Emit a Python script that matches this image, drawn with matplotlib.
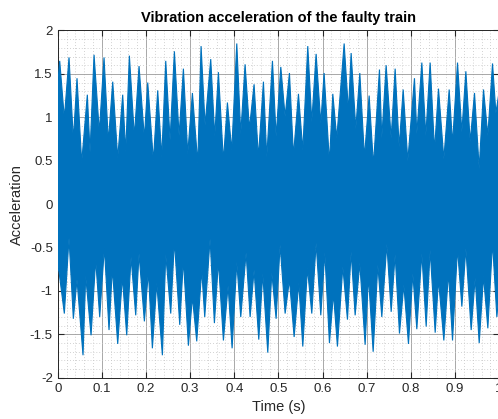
import numpy as np
import matplotlib.pyplot as plt
from matplotlib.ticker import MultipleLocator

# Envelope of the vibration signal (peaks and dips)
t_upper = [0.000, 0.0045, 0.0150, 0.0256, 0.0354, 0.0437, 0.0543, 0.0671, 0.0732, 0.0823,
           0.0943, 0.1049, 0.1147, 0.1246, 0.1359, 0.1472, 0.1540, 0.1623, 0.1736, 0.1842,
           0.1963, 0.2039, 0.2167, 0.2265, 0.2356, 0.2447, 0.2545, 0.2643, 0.2749, 0.2847,
           0.2945, 0.3051, 0.3172, 0.3247, 0.3338, 0.3466, 0.3557, 0.3640, 0.3753, 0.3844,
           0.3942, 0.4056, 0.4146, 0.4244, 0.4342, 0.4448, 0.4546, 0.4660, 0.4735, 0.4864,
           0.4947, 0.5053, 0.5151, 0.5249, 0.5340, 0.5453, 0.5551, 0.5664, 0.5755, 0.5853,
           0.5959, 0.6034, 0.6155, 0.6231, 0.6321, 0.6488, 0.6586, 0.6646, 0.6752, 0.6843,
           0.6948, 0.7054, 0.7152, 0.7288, 0.7341, 0.7439, 0.7553, 0.7643, 0.7734, 0.7825,
           0.7930, 0.8081, 0.8134, 0.8248, 0.8338, 0.8436, 0.8535, 0.8625, 0.8746, 0.8867,
           0.8943, 0.9056, 0.9154, 0.9245, 0.9343, 0.9441, 0.9547, 0.9645, 0.9743, 0.9849,
           0.9925, 1.000]
a_upper = [1.38, 1.65, 0.99, 1.69, 0.74, 1.45, 0.48, 1.26, 0.60, 1.72,
           0.83, 1.69, 0.72, 1.41, 0.53, 1.26, 0.60, 1.71, 0.78, 1.59,
           0.76, 1.40, 0.50, 1.31, 0.54, 1.65, 0.74, 1.76, 0.79, 1.56,
           0.58, 1.28, 0.47, 1.82, 0.91, 1.67, 0.78, 1.52, 0.50, 1.17,
           0.62, 1.85, 0.81, 1.61, 0.87, 1.38, 0.54, 1.41, 0.54, 1.65,
           0.78, 1.58, 1.01, 1.51, 0.56, 1.27, 0.62, 1.82, 0.95, 1.73,
           0.93, 1.51, 0.48, 1.27, 0.76, 1.85, 1.07, 1.74, 0.87, 1.51,
           0.54, 1.25, 0.45, 1.55, 0.76, 1.60, 0.76, 1.56, 0.66, 1.32,
           0.50, 1.45, 0.81, 1.63, 0.79, 1.63, 0.62, 1.33, 0.52, 1.32,
           0.70, 1.63, 0.83, 1.53, 0.72, 1.28, 0.41, 1.32, 0.79, 1.62,
           1.05, 1.30]

t_lower = [0.000, 0.0030, 0.0150, 0.0256, 0.0354, 0.0437, 0.0573, 0.0634, 0.0755, 0.0860,
           0.0951, 0.1057, 0.1162, 0.1238, 0.1359, 0.1465, 0.1563, 0.1661, 0.1767, 0.1842,
           0.1963, 0.2054, 0.2144, 0.2243, 0.2371, 0.2447, 0.2560, 0.2643, 0.2764, 0.2847,
           0.2960, 0.3051, 0.3149, 0.3262, 0.3330, 0.3451, 0.3549, 0.3640, 0.3753, 0.3859,
           0.3950, 0.4056, 0.4146, 0.4267, 0.4358, 0.4448, 0.4554, 0.4645, 0.4758, 0.4849,
           0.4947, 0.5037, 0.5151, 0.5249, 0.5355, 0.5460, 0.5551, 0.5657, 0.5755, 0.5853,
           0.5959, 0.6050, 0.6155, 0.6246, 0.6336, 0.6458, 0.6563, 0.6646, 0.6737, 0.6843,
           0.6963, 0.7039, 0.7145, 0.7251, 0.7341, 0.7455, 0.7553, 0.7643, 0.7741, 0.7840,
           0.7945, 0.8044, 0.8134, 0.8248, 0.8346, 0.8436, 0.8550, 0.8625, 0.8746, 0.8852,
           0.8943, 0.9056, 0.9154, 0.9245, 0.9365, 0.9456, 0.9547, 0.9645, 0.9743, 0.9849,
           0.9947, 1.000]
a_lower = [-0.72, -0.78, -1.26, -0.39, -1.32, -0.87, -1.74, -0.83, -1.51, -0.64,
           -1.30, -0.50, -1.45, -0.74, -1.61, -0.84, -1.51, -0.61, -1.28, -0.57,
           -1.35, -0.78, -1.66, -0.91, -1.74, -0.58, -1.26, -0.42, -1.39, -0.64,
           -1.63, -1.07, -1.58, -0.76, -1.30, -0.40, -1.37, -0.66, -1.57, -0.94,
           -1.66, -0.67, -1.30, -0.56, -1.30, -0.76, -1.56, -0.80, -1.71, -0.79,
           -1.32, -0.47, -1.26, -0.87, -1.53, -0.91, -1.64, -0.74, -1.26, -0.45,
           -1.28, -0.56, -1.60, -1.03, -1.64, -0.72, -1.33, -0.55, -1.28, -0.68,
           -1.62, -0.83, -1.70, -0.70, -1.30, -0.46, -1.24, -0.58, -1.49, -0.93,
           -1.61, -0.80, -1.44, -0.57, -1.41, -0.53, -1.48, -0.87, -1.57, -0.79,
           -1.57, -0.51, -1.18, -0.51, -1.45, -0.85, -1.60, -0.83, -1.43, -0.44,
           -1.30, -1.00]

x_ticks = [0, 0.1, 0.2, 0.3, 0.4, 0.5, 0.6, 0.7, 0.8, 0.9, 1]
x_labels = ['0', '0.1', '0.2', '0.3', '0.4', '0.5', '0.6', '0.7', '0.8', '0.9', '1']
y_ticks = [-2, -1.5, -1, -0.5, 0, 0.5, 1, 1.5, 2]
y_labels = ['-2', '-1.5', '-1', '-0.5', '0', '0.5', '1', '1.5', '2']

plt.rcParams['font.family'] = ['Liberation Sans', 'DejaVu Sans']

fig = plt.figure(figsize=(4.98, 4.19), dpi=100)
ax = fig.add_axes([0.1159, 0.0983, 0.8865, 0.8290])

blue = '#0072BD'
poly_t = np.concatenate([t_upper, t_lower[::-1]])
poly_a = np.concatenate([a_upper, a_lower[::-1]])
ax.fill(poly_t, poly_a, color=blue, lw=0.8, zorder=3)

ax.set_xlim(0, 1)
ax.set_ylim(-2, 2)
ax.set_xticks(x_ticks)
ax.set_xticklabels(x_labels)
ax.set_yticks(y_ticks)
ax.set_yticklabels(y_labels)
ax.xaxis.set_minor_locator(MultipleLocator(0.02))
ax.yaxis.set_minor_locator(MultipleLocator(0.1))

ax.grid(True, which='major', color='#9a9a9a', lw=0.6, zorder=0)
ax.grid(True, which='minor', color='#c4c4c4', lw=0.6, ls=(0, (1, 2.5)), zorder=0)
ax.set_axisbelow(True)

ax.tick_params(which='both', direction='in', top=True, right=True, colors='#262626',
               labelsize=9.5, length=4)
ax.tick_params(which='minor', length=0)
for s in ax.spines.values():
    s.set_color('#262626')
    s.set_linewidth(0.7)

ax.set_title('Vibration acceleration of the faulty train', fontsize=10.5,
             fontweight='bold', color='black', pad=6)
ax.set_xlabel('Time (s)', fontsize=10.5, color='#262626')
ax.set_ylabel('Acceleration', fontsize=10.5, color='#262626')

fig.savefig('out.png', dpi=100)
